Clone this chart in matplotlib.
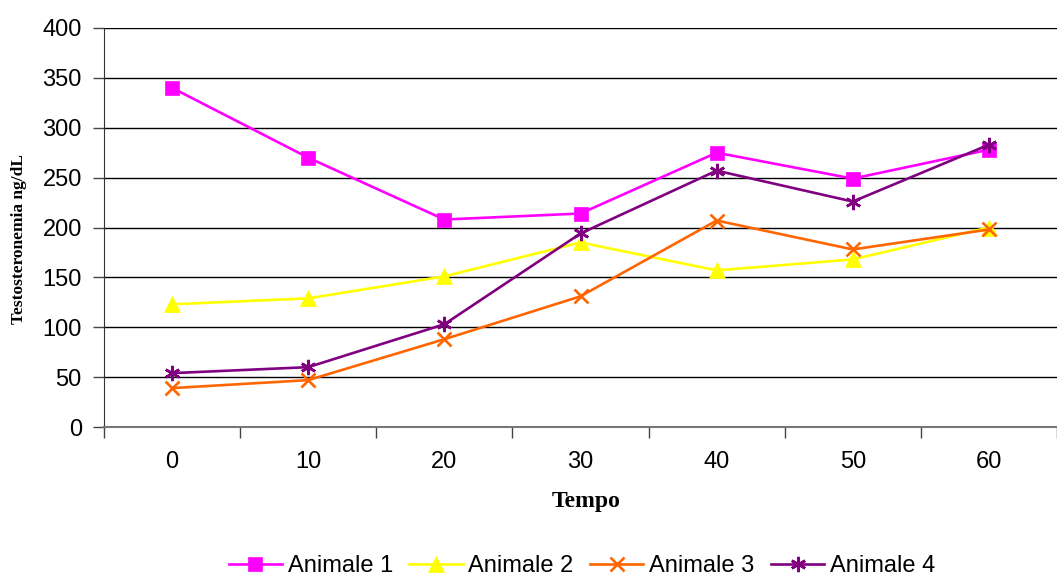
import matplotlib
matplotlib.use('Agg')
import matplotlib.pyplot as plt

# dati
tempo = ['0', '10', '20', '30', '40', '50', '60']
animale1 = [340, 270, 208, 214, 275, 249, 278]
animale2 = [123, 129, 151, 185, 157, 168, 200]
animale3 = [39, 47, 88, 131, 207, 178, 198]
animale4 = [54, 60, 103, 194, 257, 226, 283]

serie = [
    ('Animale 1', animale1, '#FF00FF', 's', 9.5),
    ('Animale 2', animale2, '#FFFF00', '^', 11),
    ('Animale 3', animale3, '#FF6600', 'x', 10),
    ('Animale 4', animale4, '#800080', (6, 2, 0), 11),
]

plt.rcParams['font.family'] = 'Liberation Sans'

fig = plt.figure(figsize=(10.57, 5.77), dpi=100)
ax = fig.add_axes([104 / 1057, 150 / 577, 953 / 1057, 399 / 577])

x = list(range(len(tempo)))
for nome, val, col, mk, ms in serie:
    ax.plot(x, val, color=col, marker=mk, markersize=ms, linewidth=1.9,
            markeredgewidth=1.9 if mk == 'x' or isinstance(mk, tuple) else 0.5,
            markeredgecolor=col, label=nome, clip_on=False, zorder=3)

# assi
ax.set_ylim(0, 400)
ax.set_yticks(range(0, 401, 50))
ax.set_xlim(-0.5, -0.5 + 953 / 138)
ax.set_xticks(x)
ax.set_xticklabels(tempo)
ax.set_xticks([i + 0.5 for i in range(-1, 7)], minor=True)
ax.tick_params(axis='x', which='major', length=0, labelsize=17, pad=17)
ax.tick_params(axis='x', which='minor', length=8, width=1, color='#444444', direction='out')
ax.tick_params(axis='y', length=8, width=1, labelsize=17, color='#444444', pad=8)

ax.grid(axis='y', color='black', linewidth=1)
ax.set_axisbelow(True)
for s in ['top', 'right']:
    ax.spines[s].set_visible(False)
ax.spines['left'].set_color('#333333')
ax.spines['bottom'].set_color('#777777')
ax.spines['bottom'].set_linewidth(1.5)

fig.text(19 / 1057, 1 - 239 / 577, 'Testosteronemia ng/dL', rotation=90,
         ha='center', va='center', fontsize=12.5, fontweight='bold', family='Liberation Serif')
fig.text(586 / 1057, 1 - 502 / 577, 'Tempo', ha='center', va='center',
         fontsize=17, fontweight='bold', family='Liberation Serif')

fig.legend(loc='center', bbox_to_anchor=(582 / 1057, 1 - 566 / 577), ncol=4,
           frameon=False, fontsize=17, handlelength=2.25, handletextpad=0.25,
           columnspacing=0.7, borderaxespad=0)

fig.savefig('out.png', dpi=100)
